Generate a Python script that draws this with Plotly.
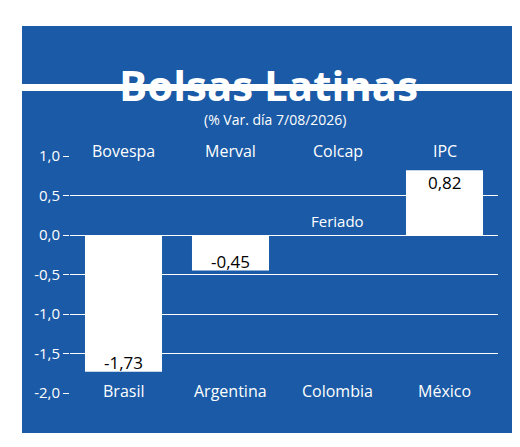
import plotly.graph_objects as go

indices = ["Bovespa", "Merval", "Colcap", "IPC"]
countries = ["Brasil", "Argentina", "Colombia", "México"]
values = [-1.73, -0.45, 0.0, 0.82]
labels = ["-1,73", "-0,45", "Feriado", "0,82"]
tick_vals = [1.0, 0.5, 0.0, -0.5, -1.0, -1.5, -2.0]
tick_text = ["1,0", "0,5", "0,0", "-0,5", "-1,0", "-1,5", "-2,0"]

BLUE = "#1a5aa6"
W, H = 520, 447
FONT = "Liberation Sans Narrow, Open Sans, sans-serif"

fig = go.Figure()
fig.add_trace(go.Bar(x=indices, y=values, marker=dict(color="white", line=dict(width=0)),
                     width=0.72, hoverinfo="skip", cliponaxis=False))

def px(x): return x / W
def py(y): return 1 - y / H

ann = []
for name, v, lab in zip(indices, values, labels):
    if v < 0:
        yy = v + 0.12
    elif v > 0:
        yy = v - 0.16
    else:
        yy = 0.18
    ann.append(dict(x=name, y=yy, xref="x", yref="y", text=lab, showarrow=False,
                    font=dict(size=17 if v != 0 else 15, color="black" if v != 0 else "white", family=FONT)))
for name in indices:
    ann.append(dict(x=name, y=py(130), xref="x", yref="paper", text=name, showarrow=False,
                    font=dict(size=16, color="white", family=FONT)))
for name, c in zip(indices, countries):
    ann.append(dict(x=name, y=py(396), xref="x", yref="paper", text=c, showarrow=False,
                    font=dict(size=16, color="white", family=FONT)))
ann.append(dict(x=0.5, y=py(46), xref="paper", yref="paper", text="<b>Bolsas Latinas</b>",
                showarrow=False, font=dict(size=42, color="white", family=FONT)))
ann.append(dict(x=px(267), y=py(100), xref="paper", yref="paper", text="(% Var. día 7/08/2026)",
                showarrow=False, font=dict(size=14, color="white", family=FONT)))

shapes = [
    dict(type="rect", xref="paper", yref="paper", x0=px(14), x1=px(505), y0=py(76), y1=py(18),
         fillcolor=BLUE, line=dict(width=0), layer="below"),
    dict(type="rect", xref="paper", yref="paper", x0=px(14), x1=px(505), y0=py(425), y1=py(83),
         fillcolor=BLUE, line=dict(width=0), layer="below"),
]

fig.update_layout(
    width=W, height=H, margin=dict(l=0, r=0, t=0, b=0, pad=0, autoexpand=False),
    paper_bgcolor="white", plot_bgcolor=BLUE, showlegend=False,
    shapes=shapes, annotations=ann,
    xaxis=dict(domain=[px(62), px(490)], showticklabels=False, showgrid=False, zeroline=False,
               range=[-0.5, 3.5], automargin=False),
    yaxis=dict(domain=[py(385), py(148)], range=[-2.0, 1.0], tickvals=tick_vals, ticktext=tick_text,
               automargin=False,
               showgrid=True, gridcolor="white", gridwidth=1.3, zeroline=True, zerolinecolor="white",
               zerolinewidth=1.3, ticks="outside", tickcolor="white", ticklen=6,
               tickfont=dict(size=15, color="white", family=FONT)),
)
fig.write_html("out.html")
